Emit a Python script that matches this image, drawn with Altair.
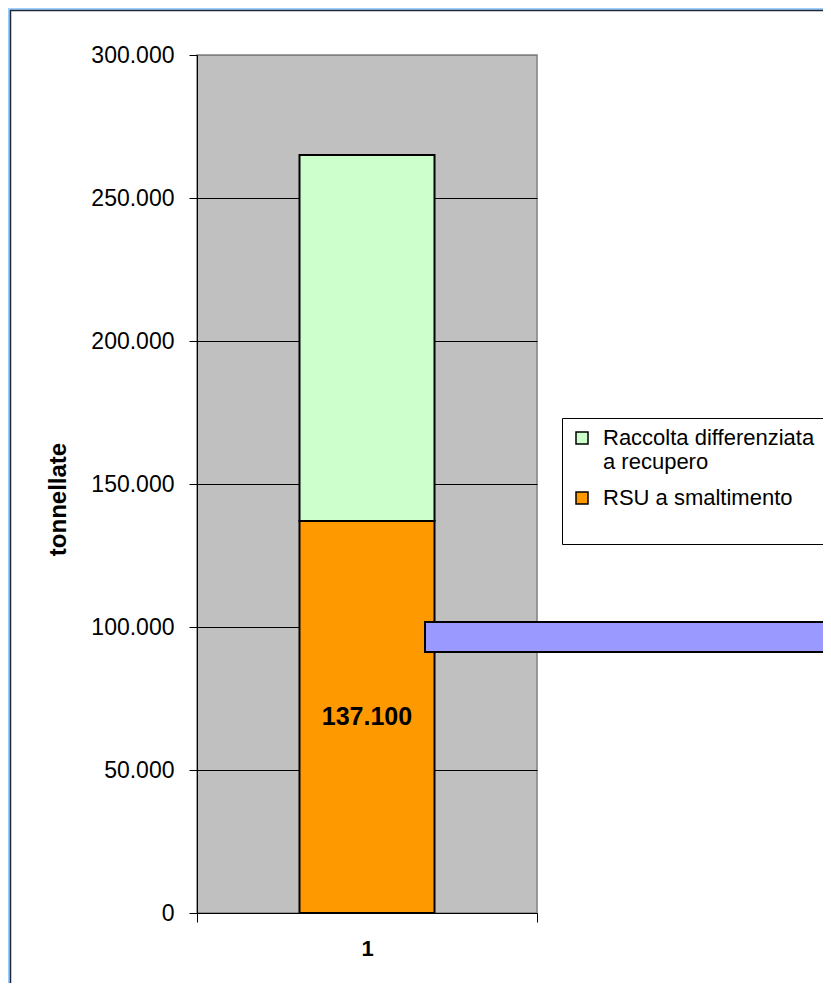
import altair as alt
import pandas as pd

# ---- data ----
categorie = ["1"]
serie = ["RSU a smaltimento", "Raccolta differenziata a recupero"]
valori = [137100, 127900]
ordine = [0, 1]
tick_y = [0, 50000, 100000, 150000, 200000, 250000, 300000]

legenda_dominio = ["Raccolta differenziata a recupero", "RSU a smaltimento"]
legenda_colori = ["#CCFFCC", "#FF9900"]

df = pd.DataFrame({
    "categoria": [categorie[0]] * len(serie),
    "serie": serie,
    "valore": valori,
    "ordine": ordine,
})
deco = pd.DataFrame({"k": [0]})

FONT = "Liberation Sans"

# ---- decorations (frame and callout box) ----
blue_left = alt.Chart(deco).mark_rect(color="#99CCFF").encode(
    x=alt.value(-189), x2=alt.value(-186.5), y=alt.value(-47), y2=alt.value(1000))
blue_top = alt.Chart(deco).mark_rect(color="#9FD0FF").encode(
    x=alt.value(-189), x2=alt.value(700), y=alt.value(-47), y2=alt.value(-44.5))
frame = alt.Chart(deco).mark_rect(fillOpacity=0, stroke="#1f2a36", strokeWidth=1.5).encode(
    x=alt.value(-186.5), x2=alt.value(700), y=alt.value(-44.5), y2=alt.value(1000))

bars = alt.Chart(df).mark_bar(size=135, stroke="black", strokeWidth=2).encode(
    x=alt.X("categoria:N",
            scale=alt.Scale(paddingInner=0, paddingOuter=0),
            axis=alt.Axis(title=None, labelAngle=0, labelFont=FONT, labelFontSize=22,
                          labelFontWeight="bold", labelColor="black", labelPadding=16,
                          tickBand="extent", tickSize=9, tickColor="black",
                          domainColor="black", grid=False)),
    y=alt.Y("valore:Q", stack="zero",
            scale=alt.Scale(domain=[0, 300000], nice=False),
            axis=alt.Axis(title="tonnellate", values=tick_y, format=",d",
                          labelFont=FONT, labelFontSize=23, labelColor="black",
                          labelPadding=15, tickSize=8, tickColor="black",
                          domainColor="black", grid=True,
                          gridColor={"condition": {"test": "datum.value >= 300000", "value": "#808080"},
                                     "value": "black"},
                          gridWidth=1,
                          titleFont=FONT, titleFontSize=24, titleFontWeight="bold",
                          titleColor="black", titleAngle=-90, titleX=-139, titleY=444,
                          titleBaseline="middle", titleAlign="center")),
    color=alt.Color("serie:N",
                    scale=alt.Scale(domain=legenda_dominio, range=legenda_colori),
                    legend=alt.Legend(
                        title=" ", titleOrient="bottom", titleFontSize=22,
                        orient="none", legendX=365, legendY=363,
                        padding=9, strokeColor="black", fillColor="white",
                        symbolType="square", symbolSize=144,
                        symbolStrokeColor="black", symbolStrokeWidth=1.5,
                        labelFont=FONT, labelFontSize=22, labelColor="black",
                        labelOffset=10, labelLimit=400, rowPadding=14,
                        labelExpr="datum.label == 'Raccolta differenziata a recupero' ? ['Raccolta differenziata', 'a recupero'] : datum.label")),
    order=alt.Order("ordine:Q"),
)

label = alt.Chart(df).transform_filter(
    alt.datum.serie == "RSU a smaltimento"
).transform_calculate(
    mid="datum.valore / 2"
).mark_text(font=FONT, fontSize=25, fontWeight="bold", color="black").encode(
    x=alt.X("categoria:N"),
    y=alt.Y("mid:Q", title="tonnellate"),
    text=alt.Text("valore:Q", format=",d"),
)

callout = alt.Chart(deco).mark_rect(color="#9999FF", stroke="black", strokeWidth=2).encode(
    x=alt.value(228), x2=alt.value(700), y=alt.value(567), y2=alt.value(597))

chart = alt.layer(blue_left, blue_top, frame, bars, label, callout).properties(
    width=340, height=858,
    padding={"left": 189, "top": 47, "right": 286, "bottom": 70},
    autosize=alt.AutoSizeParams(type="none"),
    background="white",
).configure(
    locale={"number": {"decimal": ",", "thousands": ".", "grouping": [3], "currency": ["", " €"]}}
).configure_view(
    fill="#C0C0C0", stroke="#808080", strokeWidth=1.5
)

chart.save("out.html", embed_options={"renderer": "svg", "actions": False})
